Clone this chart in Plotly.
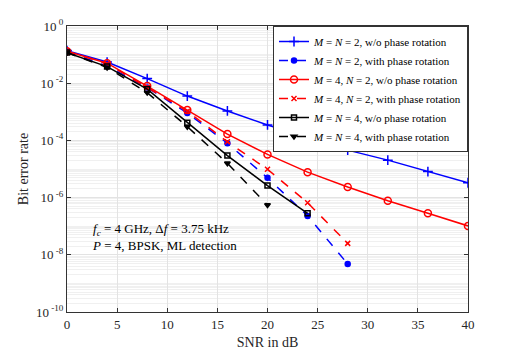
import plotly.graph_objects as go

snr_long = [0, 4, 8, 12, 16, 20, 24, 28, 32, 36, 40]
snr_28 = [0, 4, 8, 12, 16, 20, 24, 28]
snr_24 = [0, 4, 8, 12, 16, 20, 24]
snr_20 = [0, 4, 8, 12, 16, 20]
x_ticks = [0, 5, 10, 15, 20, 25, 30, 35, 40]

# log10 of BER
mn2_wo = [-0.86, -1.26, -1.84, -2.45, -2.97, -3.46, -3.89, -4.34, -4.69, -5.09, -5.48]
mn2_with = [-0.9, -1.4, -2.15, -3.04, -4.10, -5.31, -6.64, -8.32]
m4n2_wo = [-0.88, -1.30, -2.10, -2.94, -3.78, -4.49, -5.11, -5.63, -6.11, -6.55, -6.99]
m4n2_with = [-0.88, -1.32, -2.15, -2.98, -4.05, -5.01, -6.18, -7.60]
mn4_wo = [-0.93, -1.42, -2.21, -3.38, -4.53, -5.58, -6.55]
mn4_with = [-0.93, -1.45, -2.33, -3.52, -4.80, -6.26]

series = [
    ("<i>M</i> = <i>N</i> = 2, w/o phase rotation", snr_long, mn2_wo, "blue", "solid", "cross-thin-open", 7),
    ("<i>M</i> = <i>N</i> = 2, with phase rotation", snr_28, mn2_with, "blue", "dash", "circle", 5),
    ("<i>M</i> = 4, <i>N</i> = 2, w/o phase rotation", snr_long, m4n2_wo, "red", "solid", "circle-open", 7),
    ("<i>M</i> = 4, <i>N</i> = 2, with phase rotation", snr_28, m4n2_with, "red", "dash", "x-thin-open", 5),
    ("<i>M</i> = <i>N</i> = 4, w/o phase rotation", snr_24, mn4_wo, "black", "solid", "square-open", 5),
    ("<i>M</i> = <i>N</i> = 4, with phase rotation", snr_20, mn4_with, "black", "dash", "triangle-down", 5),
]

SERIF = "Liberation Serif"

fig = go.Figure()
for name, xs, ys, col, dash, sym, size in series:
    fig.add_trace(go.Scatter(
        x=xs, y=[10 ** v for v in ys], name=name, mode="lines+markers",
        line=dict(color=col, dash=dash, width=1.5),
        marker=dict(symbol=sym, size=size, color=col, line=dict(color=col, width=1.5)),
    ))

exps = [0, -2, -4, -6, -8, -10]
# page body has an 8px margin, so the figure is a bit smaller than the window
fig.update_layout(
    template="none",
    width=510, height=346,
    margin=dict(l=59, r=50, t=18, b=42),
    paper_bgcolor="white", plot_bgcolor="white",
    font=dict(family=SERIF, size=13, color="#262626"),
    showlegend=True,
    legend=dict(x=1, y=1, xanchor="right", yanchor="top",
                bordercolor="#333", borderwidth=1, bgcolor="white",
                font=dict(family=SERIF, size=11, color="black"), tracegroupgap=0,
                itemwidth=30),
    annotations=[dict(
        x=2.3, y=-7.38, xref="x", yref="y", xanchor="left", align="left",
        showarrow=False, font=dict(family=SERIF, size=13, color="black"),
        text="<i>f<sub>c</sub></i> = 4 GHz, Δ<i>f</i> = 3.75 kHz<br><i>P</i> = 4, BPSK, ML detection",
    )],
)
fig.update_xaxes(
    range=[0, 40], tickmode="array", tickvals=x_ticks, ticktext=[str(v) for v in x_ticks],
    tickangle=0, automargin=False,
    showline=True, linecolor="#333", linewidth=1, mirror="allticks", ticks="inside", ticklen=4,
    tickcolor="#333", showgrid=True, gridcolor="#e3e3e3", zeroline=False,
    tickfont=dict(family=SERIF, size=13),
    title=dict(text="SNR in dB", font=dict(family=SERIF, size=14), standoff=6),
)
fig.update_yaxes(
    type="log", range=[-10, 0], automargin=False,
    tickmode="array",
    tickvals=[10 ** e for e in exps], ticktext=["10<sup> %d</sup>" % e for e in exps],
    showline=True, linecolor="#333", linewidth=1, mirror="allticks", ticks="inside", ticklen=4,
    tickcolor="#333", showgrid=True, gridcolor="#e3e3e3", zeroline=False,
    minor=dict(dtick="D1", showgrid=True, gridcolor="#f0f0f0", ticks=""),
    tickfont=dict(family=SERIF, size=13),
    title=dict(text="Bit error rate", font=dict(family=SERIF, size=14), standoff=4),
)

fig.write_html("out.html")
